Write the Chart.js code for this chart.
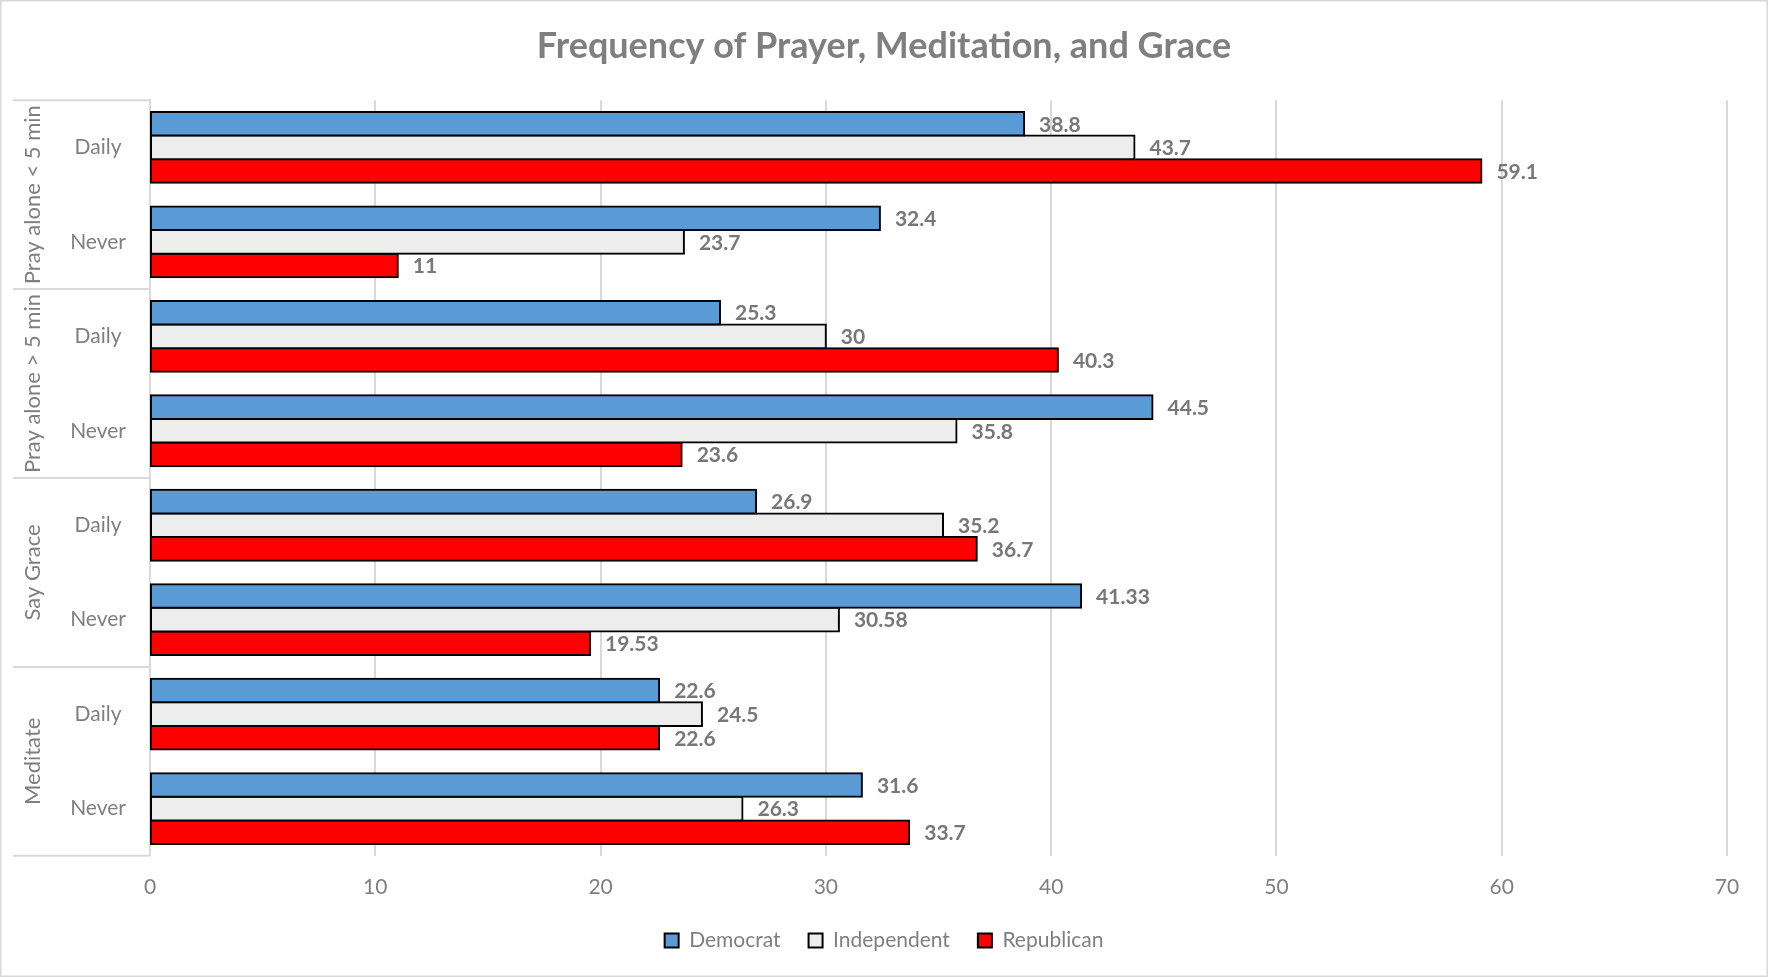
<!DOCTYPE html>
<html>
<head>
<meta charset="utf-8">
<title>Frequency of Prayer, Meditation, and Grace</title>
<script src="https://cdn.jsdelivr.net/npm/chart.js@4.4.1/dist/chart.umd.min.js"></script>
<style>
  html, body { margin: 0; padding: 0; background: #fff; }
  #wrap { width: 1768px; height: 977px; }
</style>
</head>
<body>
<div id="wrap"><canvas id="chart" width="1768" height="977"></canvas></div>
<script>
// Chart data
const groups = ['Pray alone < 5 min', 'Pray alone > 5 min', 'Say Grace', 'Meditate'];
const answers = ['Daily', 'Never'];
const democrat = [38.8, 32.4, 25.3, 44.5, 26.9, 41.33, 22.6, 31.6];
const independent = [43.7, 23.7, 30, 35.8, 35.2, 30.58, 24.5, 26.3];
const republican = [59.1, 11, 40.3, 23.6, 36.7, 19.53, 22.6, 33.7];
const xTicks = [0, 10, 20, 30, 40, 50, 60, 70];

// one "Daily"/"Never" label per bar group
const categories = groups.flatMap(() => answers);

const GRID = '#d9d9d9';
const TEXT = '#7f7f7f';
const FONT = 'Lato';

// White background and the light frame round the whole chart
const frame = {
    id: 'frame',
    beforeDraw(chart) {
        const ctx = chart.ctx;
        ctx.save();
        ctx.fillStyle = '#fff';
        ctx.fillRect(0, 0, chart.width, chart.height);
        ctx.strokeStyle = GRID;
        ctx.lineWidth = 1.5;
        ctx.strokeRect(0.75, 0.75, chart.width - 1.5, chart.height - 1.5);
        ctx.restore();
    }
};

// Outer level of the category axis: separators and rotated group names
const groupAxis = {
    id: 'groupAxis',
    afterDraw(chart) {
        const { ctx, chartArea } = chart;
        const y = chart.scales.y;
        const left = chart.options.layout.padding.left;
        const per = answers.length;

        ctx.save();
        ctx.strokeStyle = GRID;
        ctx.lineWidth = 2;
        for (let g = 0; g <= groups.length; g++) {
            let py;
            if (g === 0) py = chartArea.top;
            else if (g === groups.length) py = chartArea.bottom;
            else py = (y.getPixelForValue(g * per - 1) + y.getPixelForValue(g * per)) / 2;
            ctx.beginPath();
            ctx.moveTo(left, py);
            ctx.lineTo(chartArea.left, py);
            ctx.stroke();
        }

        ctx.fillStyle = TEXT;
        ctx.font = `22px ${FONT}`;
        ctx.textAlign = 'center';
        ctx.textBaseline = 'middle';
        groups.forEach((name, g) => {
            const cy = (y.getPixelForValue(g * per) + y.getPixelForValue(g * per + per - 1)) / 2;
            ctx.save();
            ctx.translate(left + 20, cy);
            ctx.rotate(-Math.PI / 2);
            ctx.fillText(name, 0, 0);
            ctx.restore();
        });
        ctx.restore();
    }
};

// Value labels just past the end of each bar
const valueLabels = {
    id: 'valueLabels',
    afterDatasetsDraw(chart) {
        const ctx = chart.ctx;
        ctx.save();
        ctx.font = `bold 21px ${FONT}`;
        ctx.fillStyle = '#777';
        ctx.textAlign = 'left';
        ctx.textBaseline = 'middle';
        chart.data.datasets.forEach((ds, i) => {
            chart.getDatasetMeta(i).data.forEach((bar, j) => {
                ctx.fillText(String(ds.data[j]), bar.x + 15, bar.y + 1);
            });
        });
        ctx.restore();
    }
};

new Chart(document.getElementById('chart'), {
    type: 'bar',
    data: {
        labels: categories,
        datasets: [
            { label: 'Democrat', data: democrat, backgroundColor: '#5b9bd5' },
            { label: 'Independent', data: independent, backgroundColor: '#ededed' },
            { label: 'Republican', data: republican, backgroundColor: '#ff0000' }
        ]
    },
    options: {
        indexAxis: 'y',
        responsive: false,
        animation: false,
        devicePixelRatio: 1,
        datasets: {
            bar: {
                borderColor: '#000',
                borderWidth: 2,
                borderSkipped: false,
                inflateAmount: 1,
                categoryPercentage: 0.75,
                barPercentage: 1
            }
        },
        layout: { padding: { left: 13, right: 13, top: 0, bottom: 16 } },
        plugins: {
            title: {
                display: true,
                text: 'Frequency of Prayer, Meditation, and Grace',
                color: TEXT,
                font: { family: FONT, size: 36, weight: 'bold' },
                padding: { top: 25, bottom: 32 }
            },
            legend: {
                position: 'bottom',
                labels: {
                    color: TEXT,
                    font: { family: FONT, size: 21 },
                    boxWidth: 14,
                    boxHeight: 14,
                    padding: 28
                }
            },
            tooltip: { enabled: false }
        },
        scales: {
            x: {
                min: xTicks[0],
                max: xTicks[xTicks.length - 1],
                // tick labels overhang the box a little so the legend sits closer
                afterFit(scale) { scale.height -= 17; },
                ticks: {
                    stepSize: xTicks[1] - xTicks[0],
                    color: TEXT,
                    font: { family: FONT, size: 21 },
                    padding: 19
                },
                grid: { color: GRID, lineWidth: 2, drawTicks: false },
                border: { display: false }
            },
            y: {
                afterFit(scale) { scale.width = 137; },
                ticks: {
                    color: TEXT,
                    font: { family: FONT, size: 21 },
                    crossAlign: 'center',
                    padding: 24
                },
                grid: { display: false, drawTicks: false },
                border: { display: true, color: GRID, width: 2 }
            },
            // empty right-hand spacer so the plot stops short of the frame
            spacer: {
                type: 'linear',
                position: 'right',
                afterFit(scale) { scale.width = 28; },
                ticks: { display: false },
                grid: { display: false, drawTicks: false },
                border: { display: false }
            }
        }
    },
    plugins: [frame, groupAxis, valueLabels]
});
</script>
</body>
</html>
